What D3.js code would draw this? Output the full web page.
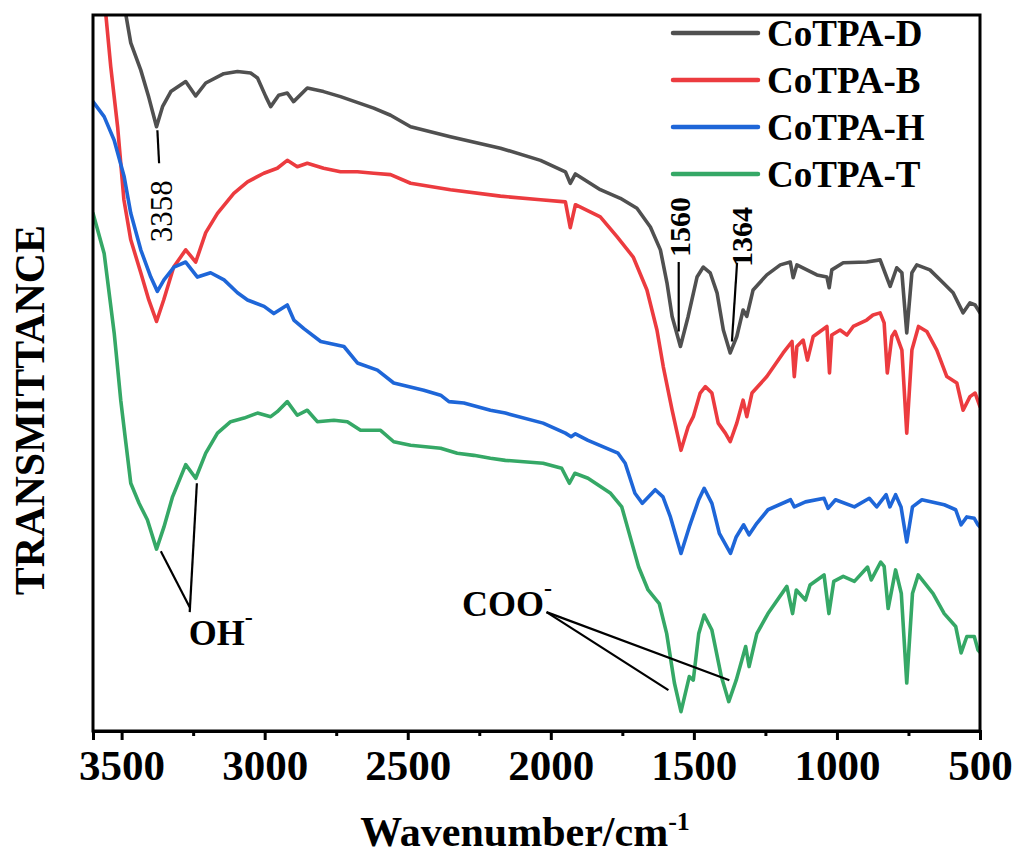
<!DOCTYPE html>
<html>
<head>
<meta charset="utf-8">
<script src="https://cdn.jsdelivr.net/npm/d3@7"></script>
<style>
  html, body { margin: 0; padding: 0; background: #fff; }
  svg { display: block; }
  text { font-family: "Liberation Serif", "Times New Roman", serif; fill: #000; }
</style>
</head>
<body>
<svg id="chart" width="1019" height="860"></svg>
<script>
// ---------- data (wavenumber cm-1, transmittance a.u.) ----------
const seriesNames = ["CoTPA-D", "CoTPA-B", "CoTPA-H", "CoTPA-T"];
const seriesColors = ["#505050", "#ec3b3f", "#1e66d8", "#35a866"];

const coTPA_D = [[3500,103.5],[3485,100.0],[3468,96.1],[3433,92.3],[3405,88.5],[3378,84.4],[3357,87.2],[3328,89.3],[3276,90.7],[3241,88.7],[3206,90.5],[3143,91.8],[3095,92.1],[3049,91.9],[3025,91.2],[2996,88.6],[2979,87.2],[2951,88.8],[2921,89.1],[2899,87.9],[2851,89.8],[2794,89.3],[2735,88.6],[2619,87.0],[2560,86.0],[2490,84.4],[2351,83.0],[2176,81.4],[2036,79.7],[1949,78.1],[1932,76.5],[1914,77.8],[1827,75.6],[1757,74.4],[1699,73.0],[1652,70.4],[1617,67.2],[1594,62.6],[1576,57.9],[1547,53.7],[1520,57.9],[1489,63.4],[1467,64.8],[1443,64.0],[1419,61.2],[1397,56.0],[1373,52.8],[1350,55.1],[1328,58.8],[1315,57.9],[1293,61.6],[1245,63.7],[1198,65.1],[1163,65.5],[1153,63.3],[1140,65.1],[1105,64.4],[1070,63.7],[1035,63.4],[1027,61.9],[1018,64.4],[978,65.4],[896,65.5],[849,65.8],[832,64.0],[814,62.1],[791,64.7],[773,64.0],[756,55.6],[738,64.0],[721,65.1],[675,64.4],[629,62.6],[594,61.2],[559,58.4],[535,59.8],[517,59.5],[500,58.4]];

const coTPA_B = [[3562,103.5],[3555,100.0],[3538,92.8],[3514,84.4],[3492,74.2],[3468,68.6],[3433,64.0],[3405,60.2],[3378,57.2],[3353,60.2],[3318,64.8],[3276,67.2],[3241,65.5],[3206,69.6],[3165,72.3],[3108,75.1],[3060,76.7],[3003,77.9],[2956,78.6],[2921,79.7],[2886,78.8],[2851,79.3],[2794,78.6],[2735,78.1],[2676,78.1],[2619,77.9],[2560,77.7],[2490,76.5],[2351,75.6],[2176,74.7],[2036,74.2],[1949,73.9],[1932,70.3],[1914,73.5],[1827,71.8],[1768,69.0],[1712,66.2],[1664,61.6],[1629,56.0],[1607,50.9],[1576,44.8],[1545,39.2],[1520,42.5],[1502,43.9],[1478,47.2],[1460,48.1],[1437,47.2],[1415,43.0],[1390,41.6],[1373,40.4],[1350,43.0],[1328,46.2],[1315,43.9],[1297,47.2],[1245,49.5],[1188,52.8],[1157,54.4],[1149,49.5],[1140,53.7],[1118,54.6],[1103,51.8],[1083,55.1],[1035,56.5],[1026,50.0],[1018,55.3],[989,56.0],[965,55.3],[943,56.5],[896,57.4],[874,58.1],[849,58.4],[835,57.0],[824,50.0],[808,55.1],[797,55.8],[773,53.2],[756,41.6],[738,53.2],[715,56.5],[686,55.8],[651,53.2],[616,49.5],[581,48.6],[559,44.8],[535,46.7],[517,47.2],[500,45.3]];

const coTPA_H = [[3600,87.9],[3561,85.8],[3526,82.5],[3491,77.4],[3468,72.3],[3433,67.2],[3398,63.4],[3375,61.4],[3352,63.0],[3317,64.8],[3276,65.5],[3235,63.4],[3189,64.0],[3142,63.0],[3095,61.2],[3060,60.2],[3002,59.3],[2968,58.3],[2921,59.5],[2898,57.4],[2863,56.2],[2804,54.4],[2723,53.7],[2676,51.4],[2606,50.4],[2549,48.6],[2444,47.6],[2385,46.9],[2356,46.0],[2304,45.8],[2211,44.8],[2159,44.4],[2027,43.0],[1949,41.6],[1929,41.1],[1914,41.5],[1870,40.6],[1765,38.8],[1740,37.4],[1706,33.2],[1680,31.8],[1635,33.7],[1608,32.7],[1582,29.9],[1545,24.8],[1516,28.5],[1483,32.3],[1464,33.9],[1437,31.8],[1411,27.6],[1372,24.8],[1352,27.1],[1326,28.8],[1307,27.4],[1280,29.0],[1241,30.9],[1162,32.3],[1149,31.3],[1110,32.0],[1045,32.5],[1031,31.1],[1005,32.3],[939,31.3],[887,32.5],[861,31.3],[828,33.0],[815,31.3],[795,33.0],[776,31.3],[756,26.4],[736,31.3],[703,32.3],[625,31.6],[585,30.9],[566,28.8],[546,29.9],[520,29.7],[507,28.8],[500,28.5]];

const coTPA_T = [[3600,72.3],[3561,66.7],[3526,55.6],[3520,53.2],[3503,46.2],[3485,40.2],[3468,34.6],[3439,31.8],[3410,29.5],[3378,25.4],[3352,28.5],[3322,32.7],[3276,37.2],[3241,35.3],[3206,38.8],[3165,41.6],[3119,43.2],[3072,43.7],[3025,44.4],[2979,43.9],[2956,44.6],[2921,46.0],[2886,44.1],[2851,44.8],[2816,43.2],[2758,43.4],[2711,43.2],[2665,42.0],[2595,42.0],[2549,40.4],[2490,39.9],[2385,39.5],[2327,38.8],[2269,38.5],[2211,38.1],[2159,37.8],[2027,37.4],[1962,36.7],[1935,34.6],[1916,36.0],[1870,35.3],[1791,33.2],[1752,31.3],[1726,27.6],[1693,22.9],[1660,19.7],[1621,17.8],[1595,13.6],[1568,6.7],[1545,2.7],[1516,7.6],[1502,7.1],[1483,13.6],[1464,16.2],[1437,14.1],[1404,7.6],[1378,4.1],[1352,7.1],[1319,11.8],[1307,9.0],[1280,13.6],[1241,16.4],[1175,20.2],[1155,16.4],[1142,19.7],[1110,18.3],[1094,20.4],[1045,21.8],[1028,16.4],[1011,20.9],[978,21.6],[939,20.9],[893,22.9],[880,21.1],[847,23.6],[835,23.0],[821,17.1],[795,22.5],[775,19.2],[756,6.7],[736,19.2],[716,21.8],[664,19.2],[625,16.4],[585,14.6],[566,10.9],[546,13.2],[520,13.2],[507,11.3],[500,11.0]];

const allSeries = [coTPA_D, coTPA_B, coTPA_H, coTPA_T];

const xTickValues = [3500, 3000, 2500, 2000, 1500, 1000, 500];
const xMinorTicks = [3250, 2750, 2250, 1750, 1250, 750];
const xDomain = [3600, 500];
const yDomain = [0, 100];

// peak labels: [text, wavenumber, value] (label centre) and leader lines [w1,v1,w2,v2]
const peakLabels = [
  {text: "3358", w: 3363, v: 72.6, bold: false, size: 31, line: [3375, 83.9, 3369, 79.3]},
  {text: "1560", w: 1551, v: 70.4, bold: true, size: 30, line: [1553, 65.5, 1553, 55.8]},
  {text: "1364", w: 1334, v: 69.0, bold: true, size: 30, line: [1349, 65.4, 1367, 54.4]}
];
// group labels with converging leader lines
const groupLabels = [
  {main: "OH", sup: "-", w: 3265, v: 12.0, lines: [[3363, 25.1, 3262, 17.3], [3237, 34.6, 3262, 16.6]]},
  {main: "COO", sup: "-", w: 2310, v: 16.0, lines: [[2015, 16.6, 1589, 5.7], [2015, 16.6, 1376, 7.1]]}
];

// ---------- layout ----------
const svg = d3.select("#chart");
const m = {left: 93, right: 980, top: 15, bottom: 731};

const x = d3.scaleLinear().domain(xDomain).range([m.left, m.right]);
const y = d3.scaleLinear().domain(yDomain).range([m.bottom, m.top]);

svg.append("defs").append("clipPath").attr("id", "plotClip")
  .append("rect").attr("x", m.left).attr("y", m.top)
  .attr("width", m.right - m.left).attr("height", m.bottom - m.top);

// curves
const line = d3.line().x(d => x(d[0])).y(d => y(d[1]));
const curves = svg.append("g").attr("clip-path", "url(#plotClip)");
allSeries.forEach((s, i) => {
  curves.append("path").datum(s)
    .attr("d", line)
    .attr("fill", "none")
    .attr("stroke", seriesColors[i])
    .attr("stroke-width", 3.6)
    .attr("stroke-linejoin", "round")
    .attr("stroke-linecap", "round");
});

// frame
svg.append("rect")
  .attr("x", m.left).attr("y", m.top)
  .attr("width", m.right - m.left).attr("height", m.bottom - m.top)
  .attr("fill", "none").attr("stroke", "#000").attr("stroke-width", 3);

// x axis
const xAxis = d3.axisBottom(x).tickValues(xTickValues).tickSize(9).tickPadding(9)
  .tickFormat(d3.format("d"));
const gx = svg.append("g").attr("transform", `translate(0,${m.bottom})`).call(xAxis);
gx.select(".domain").attr("stroke", "#000").attr("stroke-width", 3);
gx.selectAll(".tick line").attr("stroke", "#000").attr("stroke-width", 3);
gx.selectAll(".tick text")
  .style("font-family", '"Liberation Serif", "Times New Roman", serif')
  .style("font-weight", "bold").style("font-size", "43px").attr("fill", "#000");

const xMinor = d3.axisBottom(x).tickValues(xMinorTicks).tickSize(5).tickFormat("");
const gm = svg.append("g").attr("transform", `translate(0,${m.bottom})`).call(xMinor);
gm.select(".domain").remove();
gm.selectAll(".tick line").attr("stroke", "#000").attr("stroke-width", 3);

// axis titles
const xTitle = svg.append("text")
  .attr("x", 525).attr("y", 846)
  .attr("text-anchor", "middle")
  .style("font-weight", "bold").style("font-size", "42px");
xTitle.append("tspan").text("Wavenumber/cm");
xTitle.append("tspan").attr("dy", -16).style("font-size", "26px").text("-1");

svg.append("text")
  .attr("transform", "translate(44,410) rotate(-90)")
  .attr("text-anchor", "middle")
  .style("font-weight", "bold").style("font-size", "42px")
  .text("TRANSMITTANCE");

// legend
const legend = svg.append("g");
seriesNames.forEach((name, i) => {
  const ly = 33 + i * 47;
  legend.append("line")
    .attr("x1", 673).attr("x2", 758).attr("y1", ly).attr("y2", ly)
    .attr("stroke", seriesColors[i]).attr("stroke-width", 4.5).attr("stroke-linecap", "round");
  legend.append("text")
    .attr("x", 767).attr("y", ly + 13)
    .style("font-weight", "bold").style("font-size", "37px")
    .text(name);
});

// peak labels
const ann = svg.append("g");
peakLabels.forEach(p => {
  ann.append("line")
    .attr("x1", x(p.line[0])).attr("y1", y(p.line[1]))
    .attr("x2", x(p.line[2])).attr("y2", y(p.line[3]))
    .attr("stroke", "#000").attr("stroke-width", 2.2);
  ann.append("text")
    .attr("transform", `translate(${x(p.w)},${y(p.v)}) rotate(-90)`)
    .attr("text-anchor", "middle").attr("dy", "0.35em")
    .style("font-weight", p.bold ? "bold" : "normal")
    .style("font-size", p.size + "px")
    .text(p.text);
});

groupLabels.forEach(g => {
  g.lines.forEach(l => {
    ann.append("line")
      .attr("x1", x(l[0])).attr("y1", y(l[1]))
      .attr("x2", x(l[2])).attr("y2", y(l[3]))
      .attr("stroke", "#000").attr("stroke-width", 2.2);
  });
  const t = ann.append("text")
    .attr("x", x(g.w)).attr("y", y(g.v))
    .style("font-weight", "bold").style("font-size", "36px");
  t.append("tspan").text(g.main);
  t.append("tspan").attr("dy", -20).style("font-size", "24px").text(g.sup);
});
</script>
</body>
</html>
